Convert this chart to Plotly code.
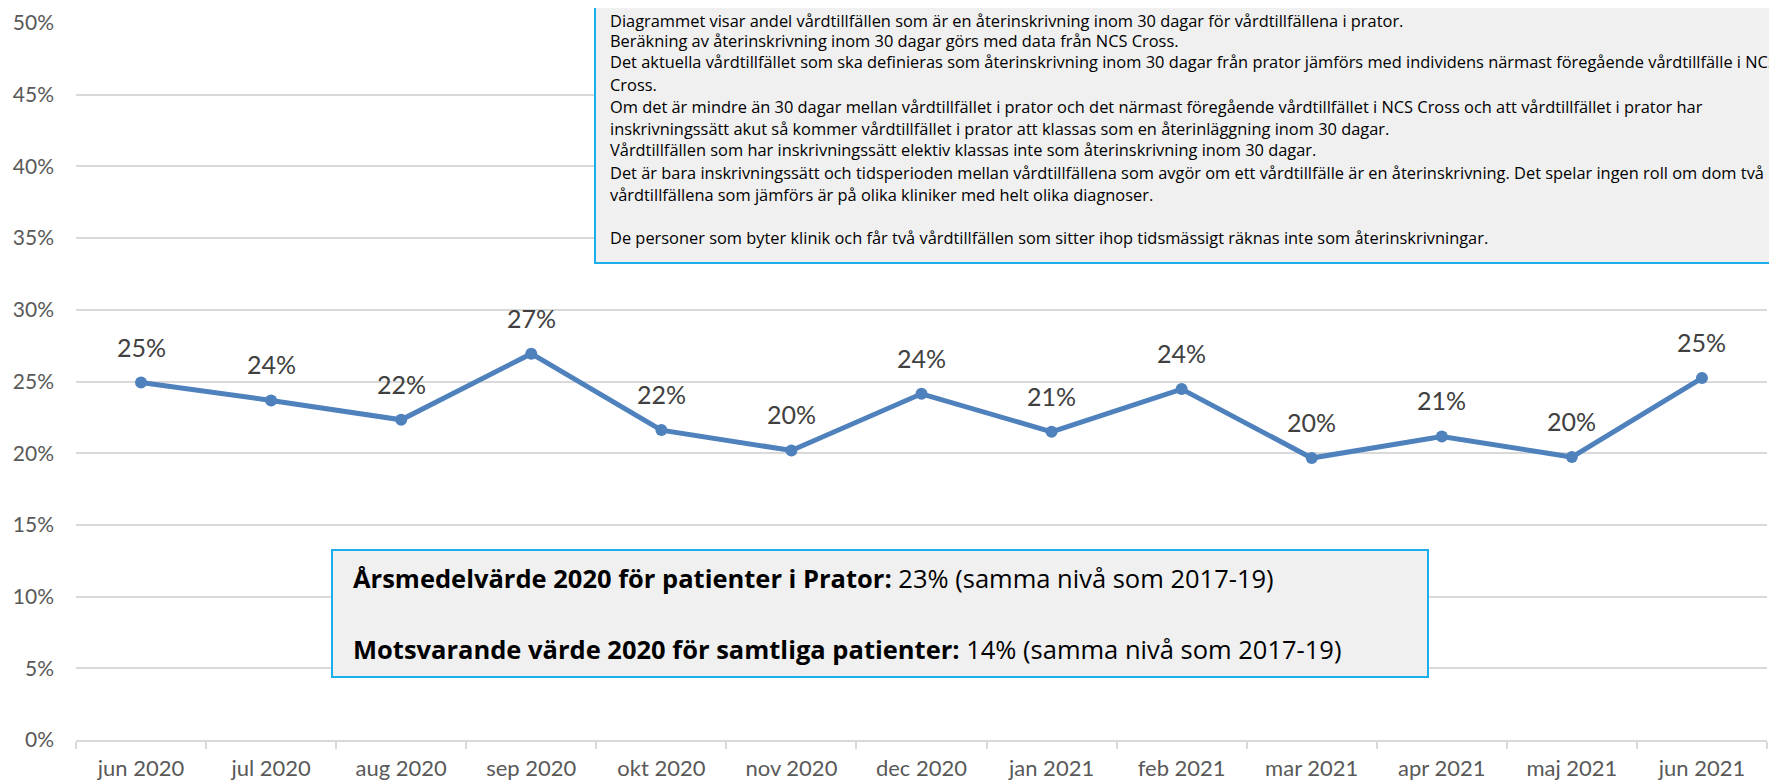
import plotly.graph_objects as go

months = ["jun 2020", "jul 2020", "aug 2020", "sep 2020", "okt 2020", "nov 2020",
          "dec 2020", "jan 2021", "feb 2021", "mar 2021", "apr 2021", "maj 2021", "jun 2021"]
values = [0.2493, 0.2368, 0.2233, 0.2694, 0.2161, 0.2019,
          0.2414, 0.2149, 0.2447, 0.1966, 0.2117, 0.1973, 0.2524]
y_ticks = [0, 0.05, 0.10, 0.15, 0.20, 0.25, 0.30, 0.35, 0.40, 0.45, 0.50]
y_ticklabels = ["0%", "5%", "10%", "15%", "20%", "25%", "30%", "35%", "40%", "45%", "50%"]

info_lines = [
    "Diagrammet visar andel vårdtillfällen som är en återinskrivning inom 30 dagar för vårdtillfällena i prator.",
    "Beräkning av återinskrivning inom 30 dagar görs med data från NCS Cross.",
    "Det aktuella vårdtillfället som ska definieras som återinskrivning inom 30 dagar från prator jämförs med individens närmast föregående vårdtillfälle i NCS",
    "Cross.",
    "Om det är mindre än 30 dagar mellan vårdtillfället i prator och det närmast föregående vårdtillfället i NCS Cross och att vårdtillfället i prator har",
    "inskrivningssätt akut så kommer vårdtillfället i prator att klassas som en återinläggning inom 30 dagar.",
    "Vårdtillfällen som har inskrivningssätt elektiv klassas inte som återinskrivning inom 30 dagar.",
    "Det är bara inskrivningssätt och tidsperioden mellan vårdtillfällena som avgör om ett vårdtillfälle är en återinskrivning. Det spelar ingen roll om dom två",
    "vårdtillfällena som jämförs är på olika kliniker med helt olika diagnoser.",
    "",
    "De personer som byter klinik och får två vårdtillfällen som sitter ihop tidsmässigt räknas inte som återinskrivningar.",
]
summary_lines = [
    "<b>Årsmedelvärde 2020 för patienter i Prator:</b> 23% (samma nivå som 2017-19)",
    "<b>Motsvarande värde 2020 för samtliga patienter:</b> 14% (samma nivå som 2017-19)",
]

# The page body has an 8px default margin; the figure is sized to fill the window from there.
OFF = 8
W, H = 1777 - OFF, 782 - OFF
# plot area in window pixels
PL, PR, PT, PB = 76, 1767, 23, 740
L, R, T, B = PL - OFF, W - (PR - OFF), PT - OFF, H - (PB - OFF)
PW, PH = PR - PL, PB - PT

def px(x):
    return (x - PL) / PW

def py(y):
    return (PB - y) / PH

AXFONT = "Lato, 'Open Sans', sans-serif"
BOXFONT = "'Open Sans', 'Noto Sans', sans-serif"

fig = go.Figure()
fig.add_trace(go.Scatter(
    x=months, y=values, mode="lines+markers",
    line=dict(color="#4F81BD", width=5),
    marker=dict(color="#4F81BD", size=12),
    hoverinfo="skip", showlegend=False,
))

annotations = []
for m, v in zip(months, values):
    annotations.append(dict(
        x=m, y=v, xref="x", yref="y", text=f"{v:.0%}", showarrow=False,
        yshift=36, font=dict(family=AXFONT, size=25, color="#404040"),
    ))

shapes = [
    dict(type="rect", xref="paper", yref="paper",
         x0=px(595), x1=px(1800), y0=py(263), y1=py(-20),
         fillcolor="#F0F0F0", line=dict(color="#1BAEEA", width=2), layer="above"),
    dict(type="rect", xref="paper", yref="paper",
         x0=px(332), x1=px(1428), y0=py(677), y1=py(550),
         fillcolor="#F0F0F0", line=dict(color="#1BAEEA", width=2), layer="above"),
]

for i, line in enumerate(info_lines):
    if not line:
        continue
    yy = 18 + 22 * i if i > 0 else 20.5
    annotations.append(dict(
        x=px(608), y=py(yy), xref="paper", yref="paper",
        xanchor="left", yanchor="middle", text=line, showarrow=False,
        font=dict(family=BOXFONT, size=16.4, color="#000000"), align="left",
    ))

for yy, line in zip([578, 649], summary_lines):
    annotations.append(dict(
        x=px(351), y=py(yy), xref="paper", yref="paper",
        xanchor="left", yanchor="middle", text=line, showarrow=False,
        font=dict(family=BOXFONT, size=25.5, color="#000000"), align="left",
    ))

fig.update_layout(
    width=W, height=H,
    margin=dict(l=L, r=R, t=T, b=B, pad=0),
    paper_bgcolor="white", plot_bgcolor="white",
    showlegend=False,
    annotations=annotations, shapes=shapes,
    xaxis=dict(
        type="category", range=[-0.5, 12.5], automargin=False,
        showgrid=False, showline=True, linecolor="#D9D9D9", linewidth=1.5,
        ticks="outside", tickson="boundaries", ticklen=7, tickcolor="#D9D9D9", tickwidth=1.5,
        tickfont=dict(family=AXFONT, size=22, color="#595959"),
        ticklabelstandoff=8, zeroline=False, fixedrange=True,
    ),
    yaxis=dict(
        range=[0, 0.5], tickvals=y_ticks, ticktext=y_ticklabels, automargin=False,
        showgrid=True, gridcolor="#D9D9D9", gridwidth=1.5,
        zeroline=False, showline=False, ticks="",
        tickfont=dict(family=AXFONT, size=21, color="#595959"),
        ticklabelstandoff=21, fixedrange=True,
    ),
)

fig.write_html("out.html")
